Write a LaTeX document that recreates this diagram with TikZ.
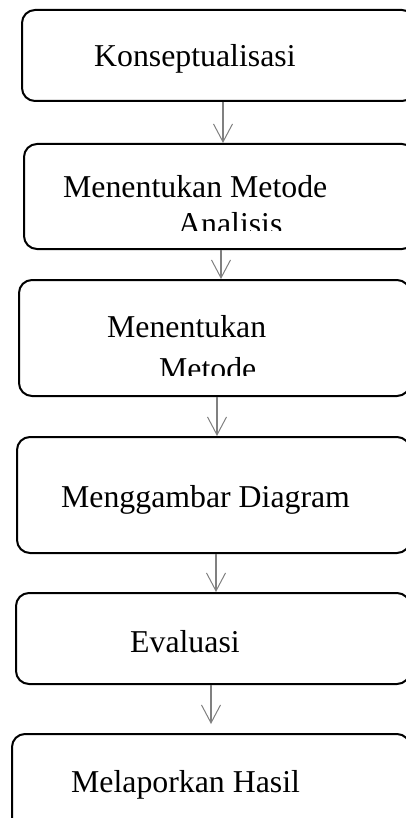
\documentclass[tikz,border=0pt]{standalone}
\usepackage{fontspec}
\setmainfont{Liberation Serif}
\usetikzlibrary{arrows.meta}

\tikzset{
  box/.style={draw=black, line width=2pt, rounded corners=13pt, inner sep=0pt},
  lbl/.style={anchor=base west, inner sep=0pt, font=\fontsize{31.8}{36}\selectfont},
  arr/.style={draw=gray, line width=1.6pt, -{Straight Barb[length=18pt,width=19pt,line width=1pt]}}
}

\begin{document}
\begin{tikzpicture}[x=1pt, y=-1pt]

  \useasboundingbox (0,0) rectangle (406,818);
  \clip (0,0) rectangle (406,818);

  \coordinate (C1) at (218.5, 55.5);
  \coordinate (C2) at (219.5,196.5);
  \coordinate (C3) at (214.5,338.0);
  \coordinate (C4) at (213.5,495.0);
  \coordinate (C5) at (213.0,638.5);
  \coordinate (C6) at (211.0,782.0);

  \node (b1) at (C1) [box, minimum width=393, minimum height=91]{};
  \node (b2) at (C2) [box, minimum width=391, minimum height=105]{};
  \node (b3) at (C3) [box, minimum width=391, minimum height=116]{};
  \node (b4) at (C4) [box, minimum width=393, minimum height=116]{};
  \node (b5) at (C5) [box, minimum width=394, minimum height=91]{};
  \node (b6) at (C6) [box, minimum width=398, minimum height=96]{};

  \node (t1) at (94,67) [lbl]{Konseptualisasi};
  \node (t2) at (63,198) [lbl]{Menentukan Metode};
  \begin{scope}
    \clip (0,0) rectangle (406,230);
    \node (t2b) at (178,234) [lbl]{Analisis};
  \end{scope}
  \node (t3) at (107,337) [lbl]{Menentukan};
  \begin{scope}
    \clip (0,0) rectangle (406,375);
    \node (t3b) at (159,379) [lbl]{Metode};
  \end{scope}
  \node (t4) at (61,507) [lbl]{Menggambar Diagram};
  \node (t5) at (130,652) [lbl]{Evaluasi};
  \node (t6) at (71,792) [lbl]{Melaporkan Hasil};

  \draw[arr] (b1.south -| 223,0) -- (b2.north -| 223,0);
  \draw[arr] (b2.south -| 221,0) -- (b3.north -| 221,0);
  \draw[arr] (b3.south -| 217,0) -- (b4.north -| 217,0);
  \draw[arr] (b4.south -| 216,0) -- (b5.north -| 216,0);
  \draw[arr, shorten >=9pt] (b5.south -| 211,0) -- (b6.north -| 211,0);

\end{tikzpicture}
\end{document}
